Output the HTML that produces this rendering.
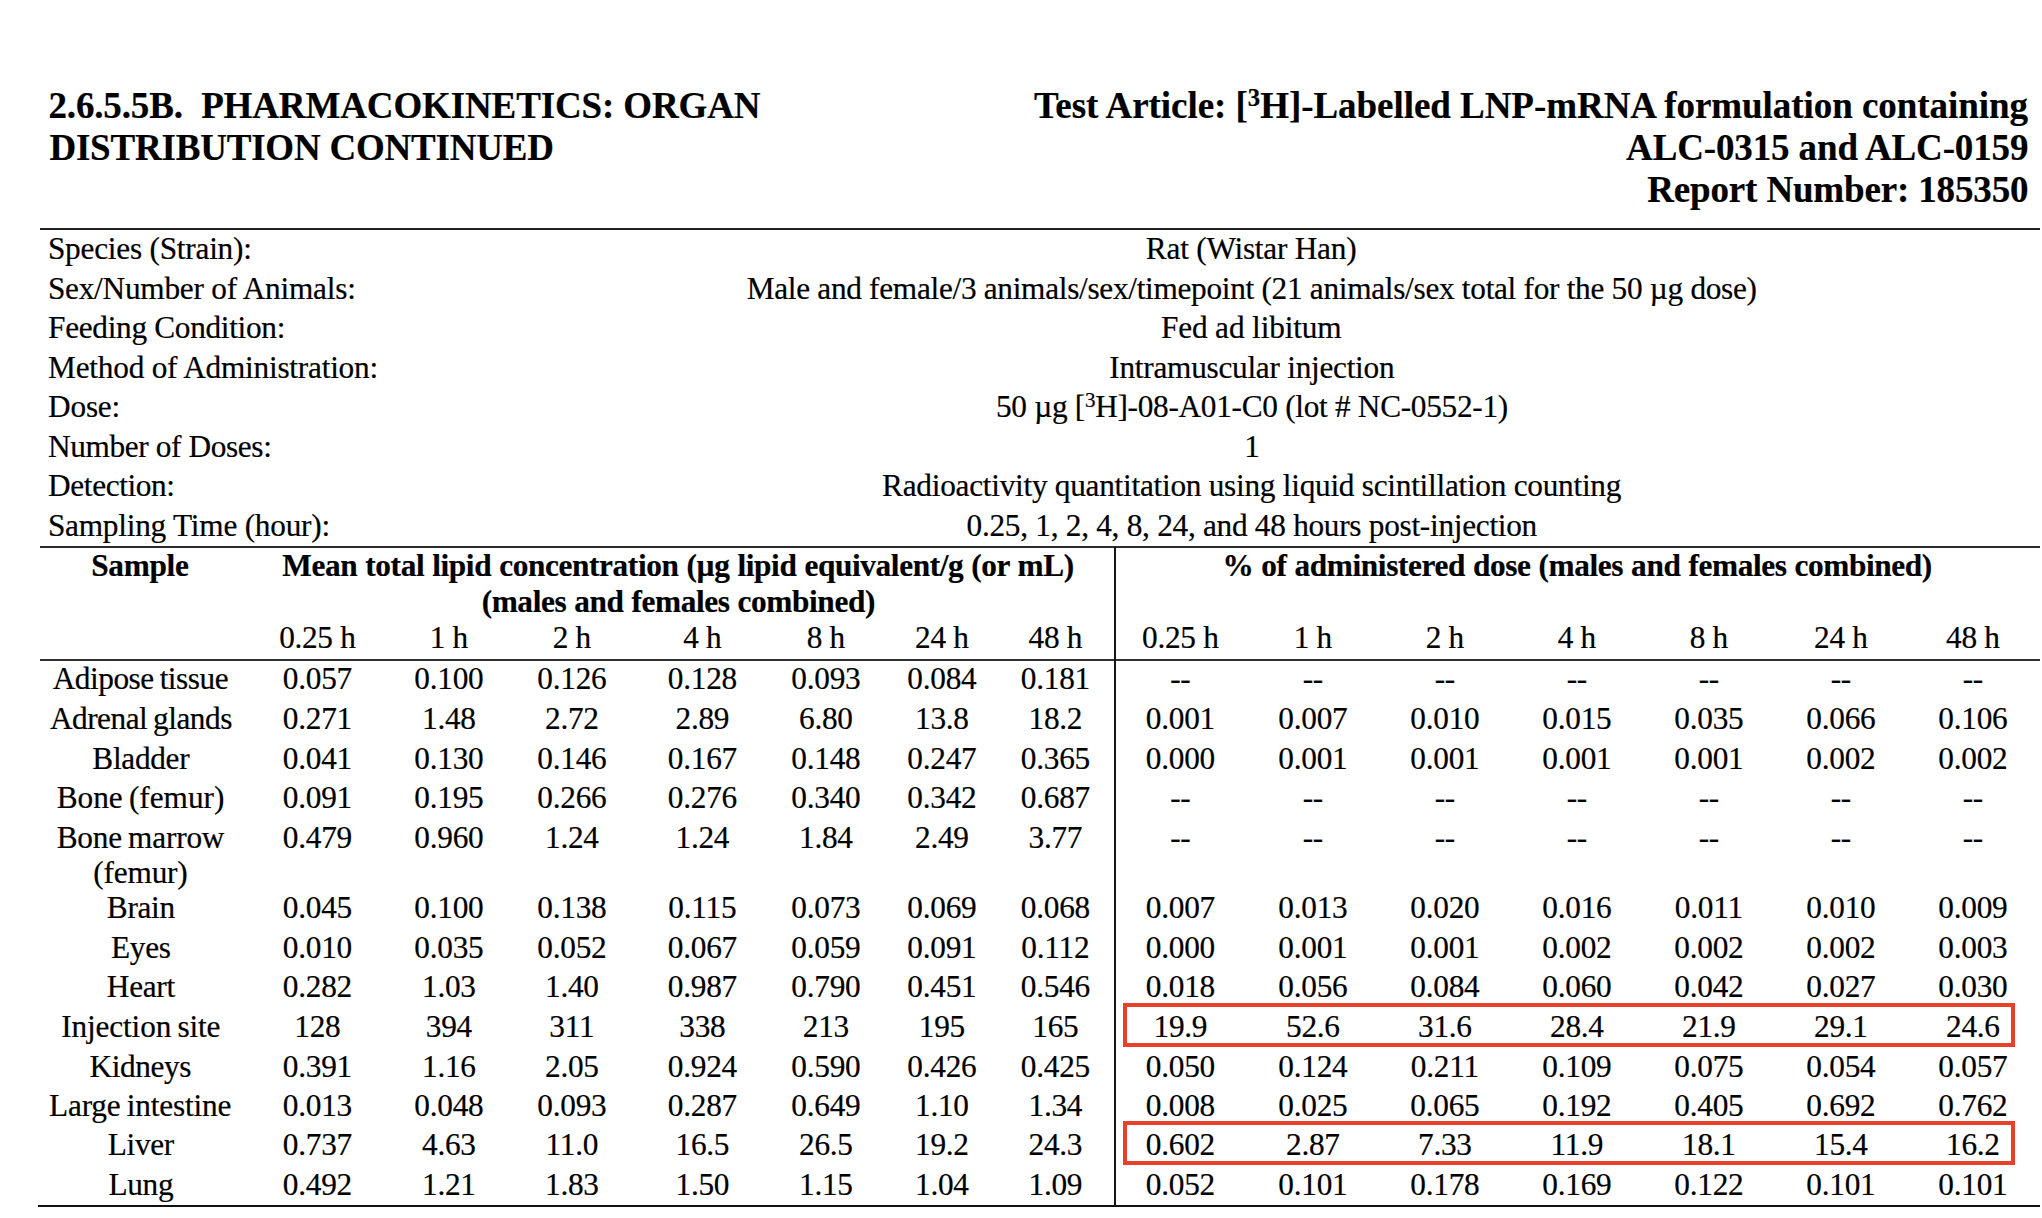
<!DOCTYPE html>
<html><head><meta charset="utf-8"><title>2.6.5.5B Pharmacokinetics: Organ Distribution Continued</title>
<style>
html,body{margin:0;padding:0;background:#fff;}
body{width:2042px;height:1218px;position:relative;overflow:hidden;font-family:"Liberation Serif","Times New Roman",serif;color:#000;}
.t{position:absolute;white-space:nowrap;-webkit-text-stroke:0.2px #000;}
.r{position:absolute;}
sup{font-size:67%;vertical-align:0;position:relative;top:-0.48em;line-height:0;}
</style></head><body>
<div class="t" style="top:83.91px;font-size:37.0px;line-height:44.4px;letter-spacing:-0.129px;word-spacing:0px;font-weight:bold;left:48.40px;">2.6.5.5B.&nbsp; PHARMACOKINETICS: ORGAN</div>
<div class="t" style="top:125.81px;font-size:37.0px;line-height:44.4px;letter-spacing:-0.202px;word-spacing:0px;font-weight:bold;left:49.40px;">DISTRIBUTION CONTINUED</div>
<div class="t" style="top:83.91px;font-size:37.0px;line-height:44.4px;letter-spacing:-0.045px;word-spacing:0px;font-weight:bold;left:828.00px;width:1200.05px;text-align:right;">Test Article: [<sup>3</sup>H]-Labelled LNP-mRNA formulation containing</div>
<div class="t" style="top:125.81px;font-size:37.0px;line-height:44.4px;letter-spacing:-0.130px;word-spacing:0px;font-weight:bold;left:828.20px;width:1200.13px;text-align:right;">ALC-0315 and ALC-0159</div>
<div class="t" style="top:167.81px;font-size:37.0px;line-height:44.4px;letter-spacing:-0.155px;word-spacing:0px;font-weight:bold;left:828.20px;width:1200.15px;text-align:right;">Report Number: 185350</div>
<div class="t" style="top:230.26px;font-size:31.3px;line-height:37.56px;letter-spacing:-0.231px;word-spacing:0px;left:47.90px;">Species (Strain):</div>
<div class="t" style="top:230.26px;font-size:31.3px;line-height:37.56px;letter-spacing:-0.233px;word-spacing:0px;left:651.13px;width:1200px;text-align:center;">Rat (Wistar Han)</div>
<div class="t" style="top:269.79px;font-size:31.3px;line-height:37.56px;letter-spacing:-0.238px;word-spacing:0px;left:47.90px;">Sex/Number of Animals:</div>
<div class="t" style="top:269.79px;font-size:31.3px;line-height:37.56px;letter-spacing:-0.296px;word-spacing:0px;left:651.70px;width:1200px;text-align:center;">Male and female/3 animals/sex/timepoint (21 animals/sex total for the 50 &micro;g dose)</div>
<div class="t" style="top:309.32px;font-size:31.3px;line-height:37.56px;letter-spacing:-0.312px;word-spacing:0px;left:48.10px;">Feeding Condition:</div>
<div class="t" style="top:309.32px;font-size:31.3px;line-height:37.56px;letter-spacing:-0.138px;word-spacing:0px;left:651.23px;width:1200px;text-align:center;">Fed ad libitum</div>
<div class="t" style="top:348.85px;font-size:31.3px;line-height:37.56px;letter-spacing:-0.229px;word-spacing:0px;left:48.10px;">Method of Administration:</div>
<div class="t" style="top:348.85px;font-size:31.3px;line-height:37.56px;letter-spacing:-0.268px;word-spacing:0px;left:651.82px;width:1200px;text-align:center;">Intramuscular injection</div>
<div class="t" style="top:388.38px;font-size:31.3px;line-height:37.56px;letter-spacing:-0.225px;word-spacing:0px;left:48.10px;">Dose:</div>
<div class="t" style="top:388.38px;font-size:31.3px;line-height:37.56px;letter-spacing:-0.297px;word-spacing:0px;left:651.95px;width:1200px;text-align:center;">50 &micro;g [<sup>3</sup>H]-08-A01-C0 (lot # NC-0552-1)</div>
<div class="t" style="top:427.91px;font-size:31.3px;line-height:37.56px;letter-spacing:-0.380px;word-spacing:0px;left:48.10px;">Number of Doses:</div>
<div class="t" style="top:427.91px;font-size:31.3px;line-height:37.56px;letter-spacing:-0.400px;word-spacing:0px;left:651.80px;width:1200px;text-align:center;">1</div>
<div class="t" style="top:467.44px;font-size:31.3px;line-height:37.56px;letter-spacing:-0.378px;word-spacing:0px;left:48.10px;">Detection:</div>
<div class="t" style="top:467.44px;font-size:31.3px;line-height:37.56px;letter-spacing:-0.264px;word-spacing:0px;left:651.62px;width:1200px;text-align:center;">Radioactivity quantitation using liquid scintillation counting</div>
<div class="t" style="top:506.97px;font-size:31.3px;line-height:37.56px;letter-spacing:-0.230px;word-spacing:0px;left:47.90px;">Sampling Time (hour):</div>
<div class="t" style="top:506.97px;font-size:31.3px;line-height:37.56px;letter-spacing:-0.281px;word-spacing:0px;left:651.81px;width:1200px;text-align:center;">0.25, 1, 2, 4, 8, 24, and 48 hours post-injection</div>
<div class="t" style="top:547.16px;font-size:31.3px;line-height:37.56px;letter-spacing:-0.270px;word-spacing:-1.5px;font-weight:bold;left:-460.09px;width:1200px;text-align:center;">Sample</div>
<div class="t" style="top:547.16px;font-size:31.3px;line-height:37.56px;letter-spacing:-0.375px;word-spacing:0.5px;font-weight:bold;left:78.06px;width:1200px;text-align:center;">Mean total lipid concentration (&micro;g lipid equivalent/g (or mL)</div>
<div class="t" style="top:582.76px;font-size:31.3px;line-height:37.56px;letter-spacing:-0.380px;word-spacing:0.5px;font-weight:bold;left:78.31px;width:1200px;text-align:center;">(males and females combined)</div>
<div class="t" style="top:547.16px;font-size:31.3px;line-height:37.56px;letter-spacing:-0.378px;word-spacing:0.5px;font-weight:bold;left:977.16px;width:1200px;text-align:center;">% of administered dose (males and females combined)</div>
<div class="t" style="top:618.56px;font-size:31.3px;line-height:37.56px;letter-spacing:-0.300px;word-spacing:0px;left:-282.65px;width:1200px;text-align:center;">0.25 h</div>
<div class="t" style="top:618.56px;font-size:31.3px;line-height:37.56px;letter-spacing:-0.300px;word-spacing:0px;left:-151.15px;width:1200px;text-align:center;">1 h</div>
<div class="t" style="top:618.56px;font-size:31.3px;line-height:37.56px;letter-spacing:-0.300px;word-spacing:0px;left:-28.15px;width:1200px;text-align:center;">2 h</div>
<div class="t" style="top:618.56px;font-size:31.3px;line-height:37.56px;letter-spacing:-0.300px;word-spacing:0px;left:102.35px;width:1200px;text-align:center;">4 h</div>
<div class="t" style="top:618.56px;font-size:31.3px;line-height:37.56px;letter-spacing:-0.300px;word-spacing:0px;left:225.85px;width:1200px;text-align:center;">8 h</div>
<div class="t" style="top:618.56px;font-size:31.3px;line-height:37.56px;letter-spacing:-0.300px;word-spacing:0px;left:341.85px;width:1200px;text-align:center;">24 h</div>
<div class="t" style="top:618.56px;font-size:31.3px;line-height:37.56px;letter-spacing:-0.300px;word-spacing:0px;left:455.35px;width:1200px;text-align:center;">48 h</div>
<div class="t" style="top:618.56px;font-size:31.3px;line-height:37.56px;letter-spacing:-0.300px;word-spacing:0px;left:580.35px;width:1200px;text-align:center;">0.25 h</div>
<div class="t" style="top:618.56px;font-size:31.3px;line-height:37.56px;letter-spacing:-0.300px;word-spacing:0px;left:712.85px;width:1200px;text-align:center;">1 h</div>
<div class="t" style="top:618.56px;font-size:31.3px;line-height:37.56px;letter-spacing:-0.300px;word-spacing:0px;left:844.85px;width:1200px;text-align:center;">2 h</div>
<div class="t" style="top:618.56px;font-size:31.3px;line-height:37.56px;letter-spacing:-0.300px;word-spacing:0px;left:976.85px;width:1200px;text-align:center;">4 h</div>
<div class="t" style="top:618.56px;font-size:31.3px;line-height:37.56px;letter-spacing:-0.300px;word-spacing:0px;left:1108.85px;width:1200px;text-align:center;">8 h</div>
<div class="t" style="top:618.56px;font-size:31.3px;line-height:37.56px;letter-spacing:-0.300px;word-spacing:0px;left:1240.85px;width:1200px;text-align:center;">24 h</div>
<div class="t" style="top:618.56px;font-size:31.3px;line-height:37.56px;letter-spacing:-0.300px;word-spacing:0px;left:1372.85px;width:1200px;text-align:center;">48 h</div>
<div class="t" style="top:660.26px;font-size:31.3px;line-height:37.56px;letter-spacing:-0.462px;word-spacing:-1.5px;left:-459.58px;width:1200px;text-align:center;">Adipose tissue</div>
<div class="t" style="top:660.26px;font-size:31.3px;line-height:37.56px;letter-spacing:-0.250px;word-spacing:-1.5px;left:-282.62px;width:1200px;text-align:center;">0.057</div>
<div class="t" style="top:660.26px;font-size:31.3px;line-height:37.56px;letter-spacing:-0.250px;word-spacing:-1.5px;left:-151.12px;width:1200px;text-align:center;">0.100</div>
<div class="t" style="top:660.26px;font-size:31.3px;line-height:37.56px;letter-spacing:-0.250px;word-spacing:-1.5px;left:-28.12px;width:1200px;text-align:center;">0.126</div>
<div class="t" style="top:660.26px;font-size:31.3px;line-height:37.56px;letter-spacing:-0.250px;word-spacing:-1.5px;left:102.38px;width:1200px;text-align:center;">0.128</div>
<div class="t" style="top:660.26px;font-size:31.3px;line-height:37.56px;letter-spacing:-0.250px;word-spacing:-1.5px;left:225.88px;width:1200px;text-align:center;">0.093</div>
<div class="t" style="top:660.26px;font-size:31.3px;line-height:37.56px;letter-spacing:-0.250px;word-spacing:-1.5px;left:341.88px;width:1200px;text-align:center;">0.084</div>
<div class="t" style="top:660.26px;font-size:31.3px;line-height:37.56px;letter-spacing:-0.250px;word-spacing:-1.5px;left:455.38px;width:1200px;text-align:center;">0.181</div>
<div class="t" style="top:660.26px;font-size:31.3px;line-height:37.56px;letter-spacing:-0.250px;word-spacing:-1.5px;left:580.38px;width:1200px;text-align:center;">--</div>
<div class="t" style="top:660.26px;font-size:31.3px;line-height:37.56px;letter-spacing:-0.250px;word-spacing:-1.5px;left:712.88px;width:1200px;text-align:center;">--</div>
<div class="t" style="top:660.26px;font-size:31.3px;line-height:37.56px;letter-spacing:-0.250px;word-spacing:-1.5px;left:844.88px;width:1200px;text-align:center;">--</div>
<div class="t" style="top:660.26px;font-size:31.3px;line-height:37.56px;letter-spacing:-0.250px;word-spacing:-1.5px;left:976.88px;width:1200px;text-align:center;">--</div>
<div class="t" style="top:660.26px;font-size:31.3px;line-height:37.56px;letter-spacing:-0.250px;word-spacing:-1.5px;left:1108.88px;width:1200px;text-align:center;">--</div>
<div class="t" style="top:660.26px;font-size:31.3px;line-height:37.56px;letter-spacing:-0.250px;word-spacing:-1.5px;left:1240.88px;width:1200px;text-align:center;">--</div>
<div class="t" style="top:660.26px;font-size:31.3px;line-height:37.56px;letter-spacing:-0.250px;word-spacing:-1.5px;left:1372.88px;width:1200px;text-align:center;">--</div>
<div class="t" style="top:699.76px;font-size:31.3px;line-height:37.56px;letter-spacing:-0.492px;word-spacing:-1.5px;left:-459.10px;width:1200px;text-align:center;">Adrenal glands</div>
<div class="t" style="top:699.76px;font-size:31.3px;line-height:37.56px;letter-spacing:-0.250px;word-spacing:-1.5px;left:-282.62px;width:1200px;text-align:center;">0.271</div>
<div class="t" style="top:699.76px;font-size:31.3px;line-height:37.56px;letter-spacing:-0.250px;word-spacing:-1.5px;left:-151.12px;width:1200px;text-align:center;">1.48</div>
<div class="t" style="top:699.76px;font-size:31.3px;line-height:37.56px;letter-spacing:-0.250px;word-spacing:-1.5px;left:-28.12px;width:1200px;text-align:center;">2.72</div>
<div class="t" style="top:699.76px;font-size:31.3px;line-height:37.56px;letter-spacing:-0.250px;word-spacing:-1.5px;left:102.38px;width:1200px;text-align:center;">2.89</div>
<div class="t" style="top:699.76px;font-size:31.3px;line-height:37.56px;letter-spacing:-0.250px;word-spacing:-1.5px;left:225.88px;width:1200px;text-align:center;">6.80</div>
<div class="t" style="top:699.76px;font-size:31.3px;line-height:37.56px;letter-spacing:-0.250px;word-spacing:-1.5px;left:341.88px;width:1200px;text-align:center;">13.8</div>
<div class="t" style="top:699.76px;font-size:31.3px;line-height:37.56px;letter-spacing:-0.250px;word-spacing:-1.5px;left:455.38px;width:1200px;text-align:center;">18.2</div>
<div class="t" style="top:699.76px;font-size:31.3px;line-height:37.56px;letter-spacing:-0.250px;word-spacing:-1.5px;left:580.38px;width:1200px;text-align:center;">0.001</div>
<div class="t" style="top:699.76px;font-size:31.3px;line-height:37.56px;letter-spacing:-0.250px;word-spacing:-1.5px;left:712.88px;width:1200px;text-align:center;">0.007</div>
<div class="t" style="top:699.76px;font-size:31.3px;line-height:37.56px;letter-spacing:-0.250px;word-spacing:-1.5px;left:844.88px;width:1200px;text-align:center;">0.010</div>
<div class="t" style="top:699.76px;font-size:31.3px;line-height:37.56px;letter-spacing:-0.250px;word-spacing:-1.5px;left:976.88px;width:1200px;text-align:center;">0.015</div>
<div class="t" style="top:699.76px;font-size:31.3px;line-height:37.56px;letter-spacing:-0.250px;word-spacing:-1.5px;left:1108.88px;width:1200px;text-align:center;">0.035</div>
<div class="t" style="top:699.76px;font-size:31.3px;line-height:37.56px;letter-spacing:-0.250px;word-spacing:-1.5px;left:1240.88px;width:1200px;text-align:center;">0.066</div>
<div class="t" style="top:699.76px;font-size:31.3px;line-height:37.56px;letter-spacing:-0.250px;word-spacing:-1.5px;left:1372.88px;width:1200px;text-align:center;">0.106</div>
<div class="t" style="top:739.96px;font-size:31.3px;line-height:37.56px;letter-spacing:-0.300px;word-spacing:-1.5px;left:-459.15px;width:1200px;text-align:center;">Bladder</div>
<div class="t" style="top:739.96px;font-size:31.3px;line-height:37.56px;letter-spacing:-0.250px;word-spacing:-1.5px;left:-282.62px;width:1200px;text-align:center;">0.041</div>
<div class="t" style="top:739.96px;font-size:31.3px;line-height:37.56px;letter-spacing:-0.250px;word-spacing:-1.5px;left:-151.12px;width:1200px;text-align:center;">0.130</div>
<div class="t" style="top:739.96px;font-size:31.3px;line-height:37.56px;letter-spacing:-0.250px;word-spacing:-1.5px;left:-28.12px;width:1200px;text-align:center;">0.146</div>
<div class="t" style="top:739.96px;font-size:31.3px;line-height:37.56px;letter-spacing:-0.250px;word-spacing:-1.5px;left:102.38px;width:1200px;text-align:center;">0.167</div>
<div class="t" style="top:739.96px;font-size:31.3px;line-height:37.56px;letter-spacing:-0.250px;word-spacing:-1.5px;left:225.88px;width:1200px;text-align:center;">0.148</div>
<div class="t" style="top:739.96px;font-size:31.3px;line-height:37.56px;letter-spacing:-0.250px;word-spacing:-1.5px;left:341.88px;width:1200px;text-align:center;">0.247</div>
<div class="t" style="top:739.96px;font-size:31.3px;line-height:37.56px;letter-spacing:-0.250px;word-spacing:-1.5px;left:455.38px;width:1200px;text-align:center;">0.365</div>
<div class="t" style="top:739.96px;font-size:31.3px;line-height:37.56px;letter-spacing:-0.250px;word-spacing:-1.5px;left:580.38px;width:1200px;text-align:center;">0.000</div>
<div class="t" style="top:739.96px;font-size:31.3px;line-height:37.56px;letter-spacing:-0.250px;word-spacing:-1.5px;left:712.88px;width:1200px;text-align:center;">0.001</div>
<div class="t" style="top:739.96px;font-size:31.3px;line-height:37.56px;letter-spacing:-0.250px;word-spacing:-1.5px;left:844.88px;width:1200px;text-align:center;">0.001</div>
<div class="t" style="top:739.96px;font-size:31.3px;line-height:37.56px;letter-spacing:-0.250px;word-spacing:-1.5px;left:976.88px;width:1200px;text-align:center;">0.001</div>
<div class="t" style="top:739.96px;font-size:31.3px;line-height:37.56px;letter-spacing:-0.250px;word-spacing:-1.5px;left:1108.88px;width:1200px;text-align:center;">0.001</div>
<div class="t" style="top:739.96px;font-size:31.3px;line-height:37.56px;letter-spacing:-0.250px;word-spacing:-1.5px;left:1240.88px;width:1200px;text-align:center;">0.002</div>
<div class="t" style="top:739.96px;font-size:31.3px;line-height:37.56px;letter-spacing:-0.250px;word-spacing:-1.5px;left:1372.88px;width:1200px;text-align:center;">0.002</div>
<div class="t" style="top:779.16px;font-size:31.3px;line-height:37.56px;letter-spacing:-0.027px;word-spacing:-1.5px;left:-459.51px;width:1200px;text-align:center;">Bone (femur)</div>
<div class="t" style="top:779.16px;font-size:31.3px;line-height:37.56px;letter-spacing:-0.250px;word-spacing:-1.5px;left:-282.62px;width:1200px;text-align:center;">0.091</div>
<div class="t" style="top:779.16px;font-size:31.3px;line-height:37.56px;letter-spacing:-0.250px;word-spacing:-1.5px;left:-151.12px;width:1200px;text-align:center;">0.195</div>
<div class="t" style="top:779.16px;font-size:31.3px;line-height:37.56px;letter-spacing:-0.250px;word-spacing:-1.5px;left:-28.12px;width:1200px;text-align:center;">0.266</div>
<div class="t" style="top:779.16px;font-size:31.3px;line-height:37.56px;letter-spacing:-0.250px;word-spacing:-1.5px;left:102.38px;width:1200px;text-align:center;">0.276</div>
<div class="t" style="top:779.16px;font-size:31.3px;line-height:37.56px;letter-spacing:-0.250px;word-spacing:-1.5px;left:225.88px;width:1200px;text-align:center;">0.340</div>
<div class="t" style="top:779.16px;font-size:31.3px;line-height:37.56px;letter-spacing:-0.250px;word-spacing:-1.5px;left:341.88px;width:1200px;text-align:center;">0.342</div>
<div class="t" style="top:779.16px;font-size:31.3px;line-height:37.56px;letter-spacing:-0.250px;word-spacing:-1.5px;left:455.38px;width:1200px;text-align:center;">0.687</div>
<div class="t" style="top:779.16px;font-size:31.3px;line-height:37.56px;letter-spacing:-0.250px;word-spacing:-1.5px;left:580.38px;width:1200px;text-align:center;">--</div>
<div class="t" style="top:779.16px;font-size:31.3px;line-height:37.56px;letter-spacing:-0.250px;word-spacing:-1.5px;left:712.88px;width:1200px;text-align:center;">--</div>
<div class="t" style="top:779.16px;font-size:31.3px;line-height:37.56px;letter-spacing:-0.250px;word-spacing:-1.5px;left:844.88px;width:1200px;text-align:center;">--</div>
<div class="t" style="top:779.16px;font-size:31.3px;line-height:37.56px;letter-spacing:-0.250px;word-spacing:-1.5px;left:976.88px;width:1200px;text-align:center;">--</div>
<div class="t" style="top:779.16px;font-size:31.3px;line-height:37.56px;letter-spacing:-0.250px;word-spacing:-1.5px;left:1108.88px;width:1200px;text-align:center;">--</div>
<div class="t" style="top:779.16px;font-size:31.3px;line-height:37.56px;letter-spacing:-0.250px;word-spacing:-1.5px;left:1240.88px;width:1200px;text-align:center;">--</div>
<div class="t" style="top:779.16px;font-size:31.3px;line-height:37.56px;letter-spacing:-0.250px;word-spacing:-1.5px;left:1372.88px;width:1200px;text-align:center;">--</div>
<div class="t" style="top:819.26px;font-size:31.3px;line-height:37.56px;letter-spacing:-0.190px;word-spacing:-1.5px;left:-459.55px;width:1200px;text-align:center;">Bone marrow</div>
<div class="t" style="top:854.06px;font-size:31.3px;line-height:37.56px;letter-spacing:-0.167px;word-spacing:-1.5px;left:-459.58px;width:1200px;text-align:center;">(femur)</div>
<div class="t" style="top:819.26px;font-size:31.3px;line-height:37.56px;letter-spacing:-0.250px;word-spacing:-1.5px;left:-282.62px;width:1200px;text-align:center;">0.479</div>
<div class="t" style="top:819.26px;font-size:31.3px;line-height:37.56px;letter-spacing:-0.250px;word-spacing:-1.5px;left:-151.12px;width:1200px;text-align:center;">0.960</div>
<div class="t" style="top:819.26px;font-size:31.3px;line-height:37.56px;letter-spacing:-0.250px;word-spacing:-1.5px;left:-28.12px;width:1200px;text-align:center;">1.24</div>
<div class="t" style="top:819.26px;font-size:31.3px;line-height:37.56px;letter-spacing:-0.250px;word-spacing:-1.5px;left:102.38px;width:1200px;text-align:center;">1.24</div>
<div class="t" style="top:819.26px;font-size:31.3px;line-height:37.56px;letter-spacing:-0.250px;word-spacing:-1.5px;left:225.88px;width:1200px;text-align:center;">1.84</div>
<div class="t" style="top:819.26px;font-size:31.3px;line-height:37.56px;letter-spacing:-0.250px;word-spacing:-1.5px;left:341.88px;width:1200px;text-align:center;">2.49</div>
<div class="t" style="top:819.26px;font-size:31.3px;line-height:37.56px;letter-spacing:-0.250px;word-spacing:-1.5px;left:455.38px;width:1200px;text-align:center;">3.77</div>
<div class="t" style="top:819.26px;font-size:31.3px;line-height:37.56px;letter-spacing:-0.250px;word-spacing:-1.5px;left:580.38px;width:1200px;text-align:center;">--</div>
<div class="t" style="top:819.26px;font-size:31.3px;line-height:37.56px;letter-spacing:-0.250px;word-spacing:-1.5px;left:712.88px;width:1200px;text-align:center;">--</div>
<div class="t" style="top:819.26px;font-size:31.3px;line-height:37.56px;letter-spacing:-0.250px;word-spacing:-1.5px;left:844.88px;width:1200px;text-align:center;">--</div>
<div class="t" style="top:819.26px;font-size:31.3px;line-height:37.56px;letter-spacing:-0.250px;word-spacing:-1.5px;left:976.88px;width:1200px;text-align:center;">--</div>
<div class="t" style="top:819.26px;font-size:31.3px;line-height:37.56px;letter-spacing:-0.250px;word-spacing:-1.5px;left:1108.88px;width:1200px;text-align:center;">--</div>
<div class="t" style="top:819.26px;font-size:31.3px;line-height:37.56px;letter-spacing:-0.250px;word-spacing:-1.5px;left:1240.88px;width:1200px;text-align:center;">--</div>
<div class="t" style="top:819.26px;font-size:31.3px;line-height:37.56px;letter-spacing:-0.250px;word-spacing:-1.5px;left:1372.88px;width:1200px;text-align:center;">--</div>
<div class="t" style="top:889.26px;font-size:31.3px;line-height:37.56px;letter-spacing:-0.300px;word-spacing:-1.5px;left:-459.15px;width:1200px;text-align:center;">Brain</div>
<div class="t" style="top:889.26px;font-size:31.3px;line-height:37.56px;letter-spacing:-0.250px;word-spacing:-1.5px;left:-282.62px;width:1200px;text-align:center;">0.045</div>
<div class="t" style="top:889.26px;font-size:31.3px;line-height:37.56px;letter-spacing:-0.250px;word-spacing:-1.5px;left:-151.12px;width:1200px;text-align:center;">0.100</div>
<div class="t" style="top:889.26px;font-size:31.3px;line-height:37.56px;letter-spacing:-0.250px;word-spacing:-1.5px;left:-28.12px;width:1200px;text-align:center;">0.138</div>
<div class="t" style="top:889.26px;font-size:31.3px;line-height:37.56px;letter-spacing:-0.250px;word-spacing:-1.5px;left:102.38px;width:1200px;text-align:center;">0.115</div>
<div class="t" style="top:889.26px;font-size:31.3px;line-height:37.56px;letter-spacing:-0.250px;word-spacing:-1.5px;left:225.88px;width:1200px;text-align:center;">0.073</div>
<div class="t" style="top:889.26px;font-size:31.3px;line-height:37.56px;letter-spacing:-0.250px;word-spacing:-1.5px;left:341.88px;width:1200px;text-align:center;">0.069</div>
<div class="t" style="top:889.26px;font-size:31.3px;line-height:37.56px;letter-spacing:-0.250px;word-spacing:-1.5px;left:455.38px;width:1200px;text-align:center;">0.068</div>
<div class="t" style="top:889.26px;font-size:31.3px;line-height:37.56px;letter-spacing:-0.250px;word-spacing:-1.5px;left:580.38px;width:1200px;text-align:center;">0.007</div>
<div class="t" style="top:889.26px;font-size:31.3px;line-height:37.56px;letter-spacing:-0.250px;word-spacing:-1.5px;left:712.88px;width:1200px;text-align:center;">0.013</div>
<div class="t" style="top:889.26px;font-size:31.3px;line-height:37.56px;letter-spacing:-0.250px;word-spacing:-1.5px;left:844.88px;width:1200px;text-align:center;">0.020</div>
<div class="t" style="top:889.26px;font-size:31.3px;line-height:37.56px;letter-spacing:-0.250px;word-spacing:-1.5px;left:976.88px;width:1200px;text-align:center;">0.016</div>
<div class="t" style="top:889.26px;font-size:31.3px;line-height:37.56px;letter-spacing:-0.250px;word-spacing:-1.5px;left:1108.88px;width:1200px;text-align:center;">0.011</div>
<div class="t" style="top:889.26px;font-size:31.3px;line-height:37.56px;letter-spacing:-0.250px;word-spacing:-1.5px;left:1240.88px;width:1200px;text-align:center;">0.010</div>
<div class="t" style="top:889.26px;font-size:31.3px;line-height:37.56px;letter-spacing:-0.250px;word-spacing:-1.5px;left:1372.88px;width:1200px;text-align:center;">0.009</div>
<div class="t" style="top:928.86px;font-size:31.3px;line-height:37.56px;letter-spacing:-0.300px;word-spacing:-1.5px;left:-459.15px;width:1200px;text-align:center;">Eyes</div>
<div class="t" style="top:928.86px;font-size:31.3px;line-height:37.56px;letter-spacing:-0.250px;word-spacing:-1.5px;left:-282.62px;width:1200px;text-align:center;">0.010</div>
<div class="t" style="top:928.86px;font-size:31.3px;line-height:37.56px;letter-spacing:-0.250px;word-spacing:-1.5px;left:-151.12px;width:1200px;text-align:center;">0.035</div>
<div class="t" style="top:928.86px;font-size:31.3px;line-height:37.56px;letter-spacing:-0.250px;word-spacing:-1.5px;left:-28.12px;width:1200px;text-align:center;">0.052</div>
<div class="t" style="top:928.86px;font-size:31.3px;line-height:37.56px;letter-spacing:-0.250px;word-spacing:-1.5px;left:102.38px;width:1200px;text-align:center;">0.067</div>
<div class="t" style="top:928.86px;font-size:31.3px;line-height:37.56px;letter-spacing:-0.250px;word-spacing:-1.5px;left:225.88px;width:1200px;text-align:center;">0.059</div>
<div class="t" style="top:928.86px;font-size:31.3px;line-height:37.56px;letter-spacing:-0.250px;word-spacing:-1.5px;left:341.88px;width:1200px;text-align:center;">0.091</div>
<div class="t" style="top:928.86px;font-size:31.3px;line-height:37.56px;letter-spacing:-0.250px;word-spacing:-1.5px;left:455.38px;width:1200px;text-align:center;">0.112</div>
<div class="t" style="top:928.86px;font-size:31.3px;line-height:37.56px;letter-spacing:-0.250px;word-spacing:-1.5px;left:580.38px;width:1200px;text-align:center;">0.000</div>
<div class="t" style="top:928.86px;font-size:31.3px;line-height:37.56px;letter-spacing:-0.250px;word-spacing:-1.5px;left:712.88px;width:1200px;text-align:center;">0.001</div>
<div class="t" style="top:928.86px;font-size:31.3px;line-height:37.56px;letter-spacing:-0.250px;word-spacing:-1.5px;left:844.88px;width:1200px;text-align:center;">0.001</div>
<div class="t" style="top:928.86px;font-size:31.3px;line-height:37.56px;letter-spacing:-0.250px;word-spacing:-1.5px;left:976.88px;width:1200px;text-align:center;">0.002</div>
<div class="t" style="top:928.86px;font-size:31.3px;line-height:37.56px;letter-spacing:-0.250px;word-spacing:-1.5px;left:1108.88px;width:1200px;text-align:center;">0.002</div>
<div class="t" style="top:928.86px;font-size:31.3px;line-height:37.56px;letter-spacing:-0.250px;word-spacing:-1.5px;left:1240.88px;width:1200px;text-align:center;">0.002</div>
<div class="t" style="top:928.86px;font-size:31.3px;line-height:37.56px;letter-spacing:-0.250px;word-spacing:-1.5px;left:1372.88px;width:1200px;text-align:center;">0.003</div>
<div class="t" style="top:968.46px;font-size:31.3px;line-height:37.56px;letter-spacing:-0.300px;word-spacing:-1.5px;left:-459.15px;width:1200px;text-align:center;">Heart</div>
<div class="t" style="top:968.46px;font-size:31.3px;line-height:37.56px;letter-spacing:-0.250px;word-spacing:-1.5px;left:-282.62px;width:1200px;text-align:center;">0.282</div>
<div class="t" style="top:968.46px;font-size:31.3px;line-height:37.56px;letter-spacing:-0.250px;word-spacing:-1.5px;left:-151.12px;width:1200px;text-align:center;">1.03</div>
<div class="t" style="top:968.46px;font-size:31.3px;line-height:37.56px;letter-spacing:-0.250px;word-spacing:-1.5px;left:-28.12px;width:1200px;text-align:center;">1.40</div>
<div class="t" style="top:968.46px;font-size:31.3px;line-height:37.56px;letter-spacing:-0.250px;word-spacing:-1.5px;left:102.38px;width:1200px;text-align:center;">0.987</div>
<div class="t" style="top:968.46px;font-size:31.3px;line-height:37.56px;letter-spacing:-0.250px;word-spacing:-1.5px;left:225.88px;width:1200px;text-align:center;">0.790</div>
<div class="t" style="top:968.46px;font-size:31.3px;line-height:37.56px;letter-spacing:-0.250px;word-spacing:-1.5px;left:341.88px;width:1200px;text-align:center;">0.451</div>
<div class="t" style="top:968.46px;font-size:31.3px;line-height:37.56px;letter-spacing:-0.250px;word-spacing:-1.5px;left:455.38px;width:1200px;text-align:center;">0.546</div>
<div class="t" style="top:968.46px;font-size:31.3px;line-height:37.56px;letter-spacing:-0.250px;word-spacing:-1.5px;left:580.38px;width:1200px;text-align:center;">0.018</div>
<div class="t" style="top:968.46px;font-size:31.3px;line-height:37.56px;letter-spacing:-0.250px;word-spacing:-1.5px;left:712.88px;width:1200px;text-align:center;">0.056</div>
<div class="t" style="top:968.46px;font-size:31.3px;line-height:37.56px;letter-spacing:-0.250px;word-spacing:-1.5px;left:844.88px;width:1200px;text-align:center;">0.084</div>
<div class="t" style="top:968.46px;font-size:31.3px;line-height:37.56px;letter-spacing:-0.250px;word-spacing:-1.5px;left:976.88px;width:1200px;text-align:center;">0.060</div>
<div class="t" style="top:968.46px;font-size:31.3px;line-height:37.56px;letter-spacing:-0.250px;word-spacing:-1.5px;left:1108.88px;width:1200px;text-align:center;">0.042</div>
<div class="t" style="top:968.46px;font-size:31.3px;line-height:37.56px;letter-spacing:-0.250px;word-spacing:-1.5px;left:1240.88px;width:1200px;text-align:center;">0.027</div>
<div class="t" style="top:968.46px;font-size:31.3px;line-height:37.56px;letter-spacing:-0.250px;word-spacing:-1.5px;left:1372.88px;width:1200px;text-align:center;">0.030</div>
<div class="t" style="top:1008.26px;font-size:31.3px;line-height:37.56px;letter-spacing:-0.131px;word-spacing:-1.5px;left:-459.27px;width:1200px;text-align:center;">Injection site</div>
<div class="t" style="top:1008.26px;font-size:31.3px;line-height:37.56px;letter-spacing:-0.250px;word-spacing:-1.5px;left:-282.62px;width:1200px;text-align:center;">128</div>
<div class="t" style="top:1008.26px;font-size:31.3px;line-height:37.56px;letter-spacing:-0.250px;word-spacing:-1.5px;left:-151.12px;width:1200px;text-align:center;">394</div>
<div class="t" style="top:1008.26px;font-size:31.3px;line-height:37.56px;letter-spacing:-0.250px;word-spacing:-1.5px;left:-28.12px;width:1200px;text-align:center;">311</div>
<div class="t" style="top:1008.26px;font-size:31.3px;line-height:37.56px;letter-spacing:-0.250px;word-spacing:-1.5px;left:102.38px;width:1200px;text-align:center;">338</div>
<div class="t" style="top:1008.26px;font-size:31.3px;line-height:37.56px;letter-spacing:-0.250px;word-spacing:-1.5px;left:225.88px;width:1200px;text-align:center;">213</div>
<div class="t" style="top:1008.26px;font-size:31.3px;line-height:37.56px;letter-spacing:-0.250px;word-spacing:-1.5px;left:341.88px;width:1200px;text-align:center;">195</div>
<div class="t" style="top:1008.26px;font-size:31.3px;line-height:37.56px;letter-spacing:-0.250px;word-spacing:-1.5px;left:455.38px;width:1200px;text-align:center;">165</div>
<div class="t" style="top:1008.26px;font-size:31.3px;line-height:37.56px;letter-spacing:-0.250px;word-spacing:-1.5px;left:580.38px;width:1200px;text-align:center;">19.9</div>
<div class="t" style="top:1008.26px;font-size:31.3px;line-height:37.56px;letter-spacing:-0.250px;word-spacing:-1.5px;left:712.88px;width:1200px;text-align:center;">52.6</div>
<div class="t" style="top:1008.26px;font-size:31.3px;line-height:37.56px;letter-spacing:-0.250px;word-spacing:-1.5px;left:844.88px;width:1200px;text-align:center;">31.6</div>
<div class="t" style="top:1008.26px;font-size:31.3px;line-height:37.56px;letter-spacing:-0.250px;word-spacing:-1.5px;left:976.88px;width:1200px;text-align:center;">28.4</div>
<div class="t" style="top:1008.26px;font-size:31.3px;line-height:37.56px;letter-spacing:-0.250px;word-spacing:-1.5px;left:1108.88px;width:1200px;text-align:center;">21.9</div>
<div class="t" style="top:1008.26px;font-size:31.3px;line-height:37.56px;letter-spacing:-0.250px;word-spacing:-1.5px;left:1240.88px;width:1200px;text-align:center;">29.1</div>
<div class="t" style="top:1008.26px;font-size:31.3px;line-height:37.56px;letter-spacing:-0.250px;word-spacing:-1.5px;left:1372.88px;width:1200px;text-align:center;">24.6</div>
<div class="t" style="top:1047.56px;font-size:31.3px;line-height:37.56px;letter-spacing:-0.400px;word-spacing:-1.5px;left:-459.80px;width:1200px;text-align:center;">Kidneys</div>
<div class="t" style="top:1047.56px;font-size:31.3px;line-height:37.56px;letter-spacing:-0.250px;word-spacing:-1.5px;left:-282.62px;width:1200px;text-align:center;">0.391</div>
<div class="t" style="top:1047.56px;font-size:31.3px;line-height:37.56px;letter-spacing:-0.250px;word-spacing:-1.5px;left:-151.12px;width:1200px;text-align:center;">1.16</div>
<div class="t" style="top:1047.56px;font-size:31.3px;line-height:37.56px;letter-spacing:-0.250px;word-spacing:-1.5px;left:-28.12px;width:1200px;text-align:center;">2.05</div>
<div class="t" style="top:1047.56px;font-size:31.3px;line-height:37.56px;letter-spacing:-0.250px;word-spacing:-1.5px;left:102.38px;width:1200px;text-align:center;">0.924</div>
<div class="t" style="top:1047.56px;font-size:31.3px;line-height:37.56px;letter-spacing:-0.250px;word-spacing:-1.5px;left:225.88px;width:1200px;text-align:center;">0.590</div>
<div class="t" style="top:1047.56px;font-size:31.3px;line-height:37.56px;letter-spacing:-0.250px;word-spacing:-1.5px;left:341.88px;width:1200px;text-align:center;">0.426</div>
<div class="t" style="top:1047.56px;font-size:31.3px;line-height:37.56px;letter-spacing:-0.250px;word-spacing:-1.5px;left:455.38px;width:1200px;text-align:center;">0.425</div>
<div class="t" style="top:1047.56px;font-size:31.3px;line-height:37.56px;letter-spacing:-0.250px;word-spacing:-1.5px;left:580.38px;width:1200px;text-align:center;">0.050</div>
<div class="t" style="top:1047.56px;font-size:31.3px;line-height:37.56px;letter-spacing:-0.250px;word-spacing:-1.5px;left:712.88px;width:1200px;text-align:center;">0.124</div>
<div class="t" style="top:1047.56px;font-size:31.3px;line-height:37.56px;letter-spacing:-0.250px;word-spacing:-1.5px;left:844.88px;width:1200px;text-align:center;">0.211</div>
<div class="t" style="top:1047.56px;font-size:31.3px;line-height:37.56px;letter-spacing:-0.250px;word-spacing:-1.5px;left:976.88px;width:1200px;text-align:center;">0.109</div>
<div class="t" style="top:1047.56px;font-size:31.3px;line-height:37.56px;letter-spacing:-0.250px;word-spacing:-1.5px;left:1108.88px;width:1200px;text-align:center;">0.075</div>
<div class="t" style="top:1047.56px;font-size:31.3px;line-height:37.56px;letter-spacing:-0.250px;word-spacing:-1.5px;left:1240.88px;width:1200px;text-align:center;">0.054</div>
<div class="t" style="top:1047.56px;font-size:31.3px;line-height:37.56px;letter-spacing:-0.250px;word-spacing:-1.5px;left:1372.88px;width:1200px;text-align:center;">0.057</div>
<div class="t" style="top:1087.16px;font-size:31.3px;line-height:37.56px;letter-spacing:-0.179px;word-spacing:-1.5px;left:-459.94px;width:1200px;text-align:center;">Large intestine</div>
<div class="t" style="top:1087.16px;font-size:31.3px;line-height:37.56px;letter-spacing:-0.250px;word-spacing:-1.5px;left:-282.62px;width:1200px;text-align:center;">0.013</div>
<div class="t" style="top:1087.16px;font-size:31.3px;line-height:37.56px;letter-spacing:-0.250px;word-spacing:-1.5px;left:-151.12px;width:1200px;text-align:center;">0.048</div>
<div class="t" style="top:1087.16px;font-size:31.3px;line-height:37.56px;letter-spacing:-0.250px;word-spacing:-1.5px;left:-28.12px;width:1200px;text-align:center;">0.093</div>
<div class="t" style="top:1087.16px;font-size:31.3px;line-height:37.56px;letter-spacing:-0.250px;word-spacing:-1.5px;left:102.38px;width:1200px;text-align:center;">0.287</div>
<div class="t" style="top:1087.16px;font-size:31.3px;line-height:37.56px;letter-spacing:-0.250px;word-spacing:-1.5px;left:225.88px;width:1200px;text-align:center;">0.649</div>
<div class="t" style="top:1087.16px;font-size:31.3px;line-height:37.56px;letter-spacing:-0.250px;word-spacing:-1.5px;left:341.88px;width:1200px;text-align:center;">1.10</div>
<div class="t" style="top:1087.16px;font-size:31.3px;line-height:37.56px;letter-spacing:-0.250px;word-spacing:-1.5px;left:455.38px;width:1200px;text-align:center;">1.34</div>
<div class="t" style="top:1087.16px;font-size:31.3px;line-height:37.56px;letter-spacing:-0.250px;word-spacing:-1.5px;left:580.38px;width:1200px;text-align:center;">0.008</div>
<div class="t" style="top:1087.16px;font-size:31.3px;line-height:37.56px;letter-spacing:-0.250px;word-spacing:-1.5px;left:712.88px;width:1200px;text-align:center;">0.025</div>
<div class="t" style="top:1087.16px;font-size:31.3px;line-height:37.56px;letter-spacing:-0.250px;word-spacing:-1.5px;left:844.88px;width:1200px;text-align:center;">0.065</div>
<div class="t" style="top:1087.16px;font-size:31.3px;line-height:37.56px;letter-spacing:-0.250px;word-spacing:-1.5px;left:976.88px;width:1200px;text-align:center;">0.192</div>
<div class="t" style="top:1087.16px;font-size:31.3px;line-height:37.56px;letter-spacing:-0.250px;word-spacing:-1.5px;left:1108.88px;width:1200px;text-align:center;">0.405</div>
<div class="t" style="top:1087.16px;font-size:31.3px;line-height:37.56px;letter-spacing:-0.250px;word-spacing:-1.5px;left:1240.88px;width:1200px;text-align:center;">0.692</div>
<div class="t" style="top:1087.16px;font-size:31.3px;line-height:37.56px;letter-spacing:-0.250px;word-spacing:-1.5px;left:1372.88px;width:1200px;text-align:center;">0.762</div>
<div class="t" style="top:1126.26px;font-size:31.3px;line-height:37.56px;letter-spacing:-0.300px;word-spacing:-1.5px;left:-459.15px;width:1200px;text-align:center;">Liver</div>
<div class="t" style="top:1126.26px;font-size:31.3px;line-height:37.56px;letter-spacing:-0.250px;word-spacing:-1.5px;left:-282.62px;width:1200px;text-align:center;">0.737</div>
<div class="t" style="top:1126.26px;font-size:31.3px;line-height:37.56px;letter-spacing:-0.250px;word-spacing:-1.5px;left:-151.12px;width:1200px;text-align:center;">4.63</div>
<div class="t" style="top:1126.26px;font-size:31.3px;line-height:37.56px;letter-spacing:-0.250px;word-spacing:-1.5px;left:-28.12px;width:1200px;text-align:center;">11.0</div>
<div class="t" style="top:1126.26px;font-size:31.3px;line-height:37.56px;letter-spacing:-0.250px;word-spacing:-1.5px;left:102.38px;width:1200px;text-align:center;">16.5</div>
<div class="t" style="top:1126.26px;font-size:31.3px;line-height:37.56px;letter-spacing:-0.250px;word-spacing:-1.5px;left:225.88px;width:1200px;text-align:center;">26.5</div>
<div class="t" style="top:1126.26px;font-size:31.3px;line-height:37.56px;letter-spacing:-0.250px;word-spacing:-1.5px;left:341.88px;width:1200px;text-align:center;">19.2</div>
<div class="t" style="top:1126.26px;font-size:31.3px;line-height:37.56px;letter-spacing:-0.250px;word-spacing:-1.5px;left:455.38px;width:1200px;text-align:center;">24.3</div>
<div class="t" style="top:1126.26px;font-size:31.3px;line-height:37.56px;letter-spacing:-0.250px;word-spacing:-1.5px;left:580.38px;width:1200px;text-align:center;">0.602</div>
<div class="t" style="top:1126.26px;font-size:31.3px;line-height:37.56px;letter-spacing:-0.250px;word-spacing:-1.5px;left:712.88px;width:1200px;text-align:center;">2.87</div>
<div class="t" style="top:1126.26px;font-size:31.3px;line-height:37.56px;letter-spacing:-0.250px;word-spacing:-1.5px;left:844.88px;width:1200px;text-align:center;">7.33</div>
<div class="t" style="top:1126.26px;font-size:31.3px;line-height:37.56px;letter-spacing:-0.250px;word-spacing:-1.5px;left:976.88px;width:1200px;text-align:center;">11.9</div>
<div class="t" style="top:1126.26px;font-size:31.3px;line-height:37.56px;letter-spacing:-0.250px;word-spacing:-1.5px;left:1108.88px;width:1200px;text-align:center;">18.1</div>
<div class="t" style="top:1126.26px;font-size:31.3px;line-height:37.56px;letter-spacing:-0.250px;word-spacing:-1.5px;left:1240.88px;width:1200px;text-align:center;">15.4</div>
<div class="t" style="top:1126.26px;font-size:31.3px;line-height:37.56px;letter-spacing:-0.250px;word-spacing:-1.5px;left:1372.88px;width:1200px;text-align:center;">16.2</div>
<div class="t" style="top:1166.06px;font-size:31.3px;line-height:37.56px;letter-spacing:-0.300px;word-spacing:-1.5px;left:-459.15px;width:1200px;text-align:center;">Lung</div>
<div class="t" style="top:1166.06px;font-size:31.3px;line-height:37.56px;letter-spacing:-0.250px;word-spacing:-1.5px;left:-282.62px;width:1200px;text-align:center;">0.492</div>
<div class="t" style="top:1166.06px;font-size:31.3px;line-height:37.56px;letter-spacing:-0.250px;word-spacing:-1.5px;left:-151.12px;width:1200px;text-align:center;">1.21</div>
<div class="t" style="top:1166.06px;font-size:31.3px;line-height:37.56px;letter-spacing:-0.250px;word-spacing:-1.5px;left:-28.12px;width:1200px;text-align:center;">1.83</div>
<div class="t" style="top:1166.06px;font-size:31.3px;line-height:37.56px;letter-spacing:-0.250px;word-spacing:-1.5px;left:102.38px;width:1200px;text-align:center;">1.50</div>
<div class="t" style="top:1166.06px;font-size:31.3px;line-height:37.56px;letter-spacing:-0.250px;word-spacing:-1.5px;left:225.88px;width:1200px;text-align:center;">1.15</div>
<div class="t" style="top:1166.06px;font-size:31.3px;line-height:37.56px;letter-spacing:-0.250px;word-spacing:-1.5px;left:341.88px;width:1200px;text-align:center;">1.04</div>
<div class="t" style="top:1166.06px;font-size:31.3px;line-height:37.56px;letter-spacing:-0.250px;word-spacing:-1.5px;left:455.38px;width:1200px;text-align:center;">1.09</div>
<div class="t" style="top:1166.06px;font-size:31.3px;line-height:37.56px;letter-spacing:-0.250px;word-spacing:-1.5px;left:580.38px;width:1200px;text-align:center;">0.052</div>
<div class="t" style="top:1166.06px;font-size:31.3px;line-height:37.56px;letter-spacing:-0.250px;word-spacing:-1.5px;left:712.88px;width:1200px;text-align:center;">0.101</div>
<div class="t" style="top:1166.06px;font-size:31.3px;line-height:37.56px;letter-spacing:-0.250px;word-spacing:-1.5px;left:844.88px;width:1200px;text-align:center;">0.178</div>
<div class="t" style="top:1166.06px;font-size:31.3px;line-height:37.56px;letter-spacing:-0.250px;word-spacing:-1.5px;left:976.88px;width:1200px;text-align:center;">0.169</div>
<div class="t" style="top:1166.06px;font-size:31.3px;line-height:37.56px;letter-spacing:-0.250px;word-spacing:-1.5px;left:1108.88px;width:1200px;text-align:center;">0.122</div>
<div class="t" style="top:1166.06px;font-size:31.3px;line-height:37.56px;letter-spacing:-0.250px;word-spacing:-1.5px;left:1240.88px;width:1200px;text-align:center;">0.101</div>
<div class="t" style="top:1166.06px;font-size:31.3px;line-height:37.56px;letter-spacing:-0.250px;word-spacing:-1.5px;left:1372.88px;width:1200px;text-align:center;">0.101</div>
<div class="r" style="left:40px;top:228.00px;width:2000px;height:2.0px;background:#222"></div>
<div class="r" style="left:40px;top:546.00px;width:2000px;height:2.0px;background:#2b2b2b"></div>
<div class="r" style="left:40px;top:659.00px;width:2000px;height:2.0px;background:#303030"></div>
<div class="r" style="left:1114.10px;top:547px;width:2.0px;height:660px;background:#161616"></div>
<div class="r" style="left:38px;top:1205.20px;width:2002px;height:2.0px;background:#111"></div>
<div class="r" style="left:1123px;top:1003px;width:884px;height:36px;border:4px solid #e8402a"></div>
<div class="r" style="left:1123px;top:1121px;width:884px;height:36px;border:4px solid #e8402a"></div>
</body></html>
